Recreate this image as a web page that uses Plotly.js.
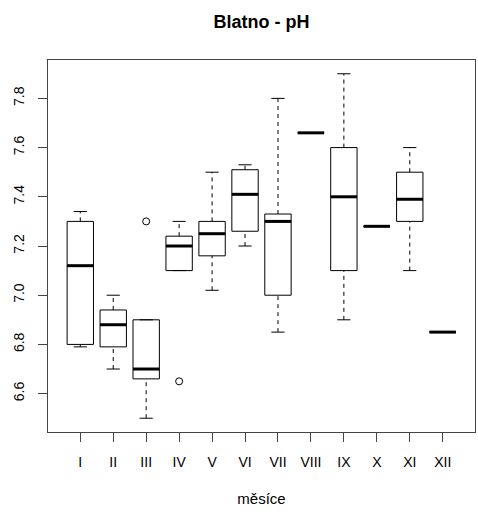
<!DOCTYPE html>
<html>
<head>
<meta charset="utf-8">
<script src="https://cdn.plot.ly/plotly-3.0.1.min.js"></script>
<style>
  html, body { margin: 0; padding: 0; background: #fff; }
  #chart { width: 478px; height: 512px; }
</style>
</head>
<body>
<div id="chart"></div>
<script>
// Monthly pH at Blatno: whisker ends, quartiles and medians per month
const months = ['I', 'II', 'III', 'IV', 'V', 'VI', 'VII', 'VIII', 'IX', 'X', 'XI', 'XII'];
const lowerWhisker = [6.79, 6.70, 6.50, 7.10, 7.02, 7.20, 6.85, 7.66, 6.90, 7.28, 7.10, 6.85];
const q1 =           [6.80, 6.79, 6.66, 7.10, 7.16, 7.26, 7.00, 7.66, 7.10, 7.28, 7.30, 6.85];
const medians =      [7.12, 6.88, 6.70, 7.20, 7.25, 7.41, 7.30, 7.66, 7.40, 7.28, 7.39, 6.85];
const q3 =           [7.30, 6.94, 6.90, 7.24, 7.30, 7.51, 7.33, 7.66, 7.60, 7.28, 7.50, 6.85];
const upperWhisker = [7.34, 7.00, 6.90, 7.30, 7.50, 7.53, 7.80, 7.66, 7.90, 7.28, 7.60, 6.85];

const outlierMonths = ['III', 'IV'];
const outlierValues = [7.30, 6.65];

const yTicks = [6.6, 6.8, 7.0, 7.2, 7.4, 7.6, 7.8];

// Numeric positions for the month categories
const pos = months.map((m, i) => i + 1);
const BOX_W = 0.8;      // box width in category units
const CAP_HALF = 0.2;   // half width of whisker staples

// Helper: build a line path of separate horizontal or vertical segments
function hSegments(centers, ys, half) {
  const x = [], y = [];
  centers.forEach((c, i) => { x.push(c - half, c + half, null); y.push(ys[i], ys[i], null); });
  return { x, y };
}
function vSegments(centers, y0, y1) {
  const x = [], y = [];
  centers.forEach((c, i) => {
    if (y0[i] !== y1[i]) { x.push(c, c, null); y.push(y0[i], y1[i], null); }
  });
  return { x, y };
}

const font = 'Liberation Sans, Arial, sans-serif';

const upperW = vSegments(pos, q3, upperWhisker);
const lowerW = vSegments(pos, lowerWhisker, q1);
const whiskers = {
  x: upperW.x.concat(lowerW.x),
  y: upperW.y.concat(lowerW.y)
};
const capsTop = hSegments(pos, upperWhisker, CAP_HALF);
const capsBot = hSegments(pos, lowerWhisker, CAP_HALF);
const medianLines = hSegments(pos, medians, BOX_W / 2);

const traces = [
  {
    type: 'scatter', mode: 'lines', x: whiskers.x, y: whiskers.y,
    line: { color: '#000', width: 1, dash: '4px,4px' },
    hoverinfo: 'skip', showlegend: false
  },
  {
    type: 'scatter', mode: 'lines',
    x: capsTop.x.concat(capsBot.x), y: capsTop.y.concat(capsBot.y),
    line: { color: '#000', width: 1 },
    hoverinfo: 'skip', showlegend: false
  },
  {
    type: 'box', x: pos, q1: q1, median: medians, q3: q3,
    lowerfence: q1, upperfence: q3,
    width: BOX_W, whiskerwidth: 0, boxpoints: false,
    fillcolor: '#fff', line: { color: '#000', width: 1 },
    showlegend: false
  },
  {
    type: 'scatter', mode: 'lines', x: medianLines.x, y: medianLines.y,
    line: { color: '#000', width: 3 },
    hoverinfo: 'skip', showlegend: false
  },
  {
    type: 'scatter', mode: 'markers',
    x: outlierMonths.map(m => months.indexOf(m) + 1), y: outlierValues,
    marker: { symbol: 'circle-open', size: 7, color: '#000', line: { width: 1 } },
    showlegend: false
  }
];

const layout = {
  width: 478, height: 512,
  margin: { l: 48, r: 3, t: 60, b: 80 },
  paper_bgcolor: '#fff', plot_bgcolor: '#fff',
  font: { family: font, color: '#000', size: 14 },
  title: {
    text: '<b>Blatno - pH</b>',
    font: { family: font, size: 18, color: '#000' },
    x: 0.5, xref: 'paper', xanchor: 'center',
    y: 1 - 22 / 512, yref: 'container', yanchor: 'middle'
  },
  xaxis: {
    range: [0.02, 12.98],
    tickvals: pos, ticktext: months,
    ticks: 'outside', ticklen: 9, tickcolor: '#444', tickwidth: 1,
    ticklabelstandoff: 8,
    showline: true, mirror: true, linecolor: '#444', linewidth: 1,
    showgrid: false, zeroline: false,
    tickfont: { family: font, size: 14, color: '#000' },
    title: { text: 'měsíce', font: { family: font, size: 15, color: '#000' }, standoff: 24 }
  },
  yaxis: {
    range: [6.444, 7.956],
    tickvals: yTicks, ticktext: yTicks.map(v => v.toFixed(1)),
    tickangle: -90,
    ticks: 'outside', ticklen: 9, tickcolor: '#444', tickwidth: 1,
    ticklabelstandoff: 8,
    showline: true, mirror: true, linecolor: '#444', linewidth: 1,
    showgrid: false, zeroline: false,
    tickfont: { family: font, size: 14, color: '#000' }
  }
};

Plotly.newPlot('chart', traces, layout, { staticPlot: true, displayModeBar: false });
</script>
</body>
</html>
